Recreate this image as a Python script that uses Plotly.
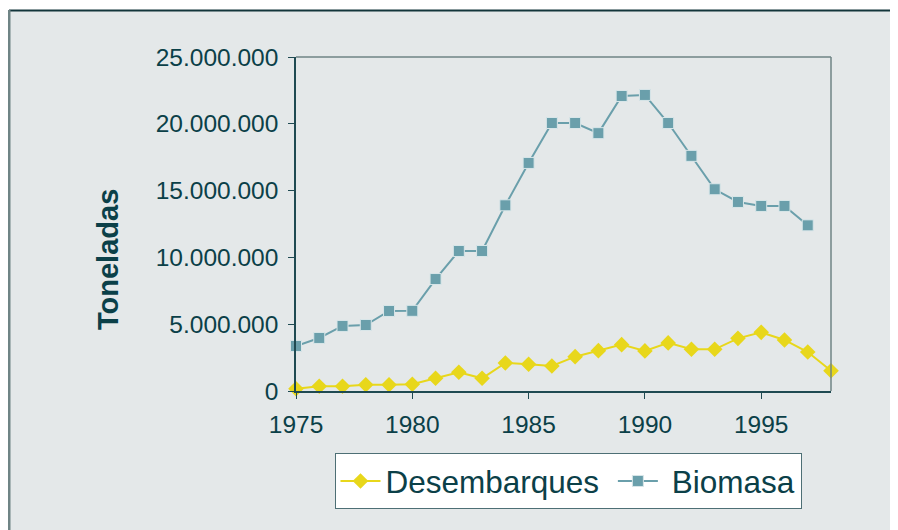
import plotly.graph_objects as go

years = list(range(1975, 1999))
desembarques = [170000, 350000, 350000, 470000, 470000, 500000, 950000, 1400000,
                950000, 2100000, 2000000, 1870000, 2570000, 3020000, 3470000, 3000000,
                3600000, 3120000, 3120000, 3940000, 4390000, 3820000, 2920000, 1520000]
biomasa_years = list(range(1975, 1998))
biomasa = [3370000, 3970000, 4870000, 4940000, 5990000, 6000000, 8380000, 10480000,
           10480000, 13900000, 17070000, 20060000, 20060000, 19300000, 22080000, 22160000,
           20060000, 17600000, 15100000, 14150000, 13850000, 13850000, 12400000]

y_ticks = [0, 5000000, 10000000, 15000000, 20000000, 25000000]
y_labels = ['0', '5.000.000', '10.000.000', '15.000.000', '20.000.000', '25.000.000']

txt = '#0b4048'
bg = '#e4e8e9'
dark = '#1f4a52'
grey = '#6f8485'

fig = go.Figure()
fig.add_trace(go.Scatter(x=years, y=desembarques, name='Desembarques\u00a0',
                         mode='lines+markers', cliponaxis=False,
                         line=dict(color='#e8d71b', width=2),
                         marker=dict(symbol='diamond', size=12, color='#e8d71b')))
fig.add_trace(go.Scatter(x=biomasa_years, y=biomasa, name='\u00a0Biomasa',
                         mode='lines+markers', cliponaxis=False,
                         line=dict(color='#6a9fab', width=2),
                         marker=dict(symbol='square', size=11, color='#6a9fab',
                                     line=dict(color='#d8e6e9', width=1))))

# page has an 8px body margin, so the figure is 8px smaller than the window
W, H = 890, 522
L, R, T, B = 288, 823, 49, 383
px = lambda v: (v - L) / (R - L)
py = lambda v: (B - v) / (B - T)

# grey panel with dark top edge and grey left edge
fig.add_shape(type='rect', xref='paper', yref='paper', layer='below',
              x0=px(1), x1=px(900), y0=py(2), y1=py(530),
              fillcolor=bg, line=dict(width=0))
fig.add_shape(type='line', xref='paper', yref='paper',
              x0=px(1), x1=px(900), y0=py(2.5), y1=py(2.5),
              line=dict(color='#12353b', width=2))
fig.add_shape(type='line', xref='paper', yref='paper',
              x0=px(1), x1=px(1), y0=py(2), y1=py(530),
              line=dict(color=grey, width=3))
# top and right border of plot area in grey
fig.add_shape(type='line', xref='paper', yref='paper', x0=0, x1=1, y0=1, y1=1,
              line=dict(color=grey, width=1.5))
fig.add_shape(type='line', xref='paper', yref='paper', x0=1, x1=1, y0=0, y1=1,
              line=dict(color=grey, width=1.5))

# y title sits a bit below the plot centre in the original
fig.add_annotation(text='<b>Toneladas</b>', xref='paper', yref='paper',
                   x=px(100), y=py(252), xanchor='center', yanchor='middle',
                   textangle=-90, showarrow=False,
                   font=dict(size=29, color=txt))

fig.update_layout(
    width=W, height=H,
    margin=dict(l=L, r=W - R, t=T, b=H - B),
    paper_bgcolor='white', plot_bgcolor='white',
    font=dict(family='Liberation Sans, Arial, sans-serif', color=txt, size=24),
    showlegend=True,
    legend=dict(orientation='h', x=px(560), xanchor='center', y=py(445), yanchor='top',
                bgcolor='white', bordercolor='#4d6f75', borderwidth=1,
                font=dict(size=31.5, color=txt), itemwidth=40),
)
fig.update_xaxes(range=[1975, 1998], tickvals=[1975, 1980, 1985, 1990, 1995],
                 showgrid=False, zeroline=False, ticks='outside', ticklen=6,
                 tickcolor=dark, showline=True, linecolor=dark, linewidth=1.5,
                 ticklabelstandoff=5,
                 tickfont=dict(size=24.5, color=txt))
fig.update_yaxes(range=[0, 25000000], tickvals=y_ticks, ticktext=y_labels,
                 showgrid=False, zeroline=False, ticks='outside', ticklen=6,
                 tickcolor=dark, showline=True, linecolor=dark, linewidth=1.5,
                 ticklabelstandoff=5,
                 tickfont=dict(size=24.5, color=txt))

fig.write_html("out.html")
